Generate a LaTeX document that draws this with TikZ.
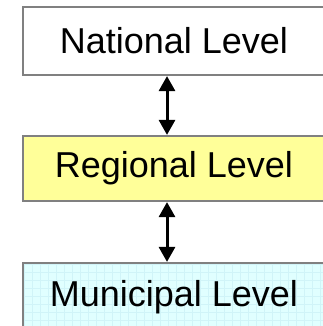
\documentclass[tikz,border=0pt]{standalone}
\usepackage{fontspec}
\setmainfont{Liberation Sans}
\usetikzlibrary{arrows.meta}

\definecolor{boxgray}{RGB}{128,128,128}
\definecolor{regyellow}{RGB}{255,255,153}
\definecolor{muncyan}{RGB}{224,255,255}
\definecolor{gridcyan}{RGB}{208,244,248}

\begin{document}
\begin{tikzpicture}[x=1pt,y=-1pt,
  level/.style={draw=boxgray,line width=2.2pt,minimum width=302pt,inner sep=0pt,
    font=\fontsize{36}{42}\selectfont},
  link/.style={line width=3pt,{Triangle[width=16pt,length=15pt]}-{Triangle[width=16pt,length=15pt]}}]
\useasboundingbox (0,0) rectangle (323,326);
\clip (0,0) rectangle (323,326);

% faint grid behind the municipal box
\fill[muncyan] (23,263) rectangle (325,331);
\begin{scope}
\clip (23,263) rectangle (325,331);
\draw[gridcyan,line width=0.3pt,step=8pt] (23,263) grid (325,331);
\end{scope}

\node[level,fill=white,minimum height=68pt] (nat) at (174,41) {National Level};
\node[level,fill=regyellow,minimum height=65pt] (reg) at (174,168.5) {Regional Level};
\node[level,minimum height=68pt] (mun) at (174,297) {Municipal Level};

\coordinate (ax) at (167,0);
\draw[link] (nat.south -| ax) -- (reg.north -| ax);
\draw[link] (reg.south -| ax) -- (mun.north -| ax);

\end{tikzpicture}
\end{document}
